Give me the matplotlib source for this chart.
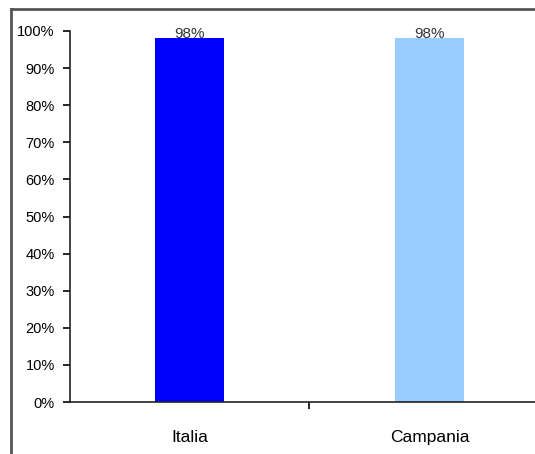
import matplotlib
matplotlib.use('Agg')
import matplotlib.pyplot as plt
from matplotlib.lines import Line2D
from matplotlib.ticker import FixedLocator, PercentFormatter

# Share of respondents, by area
areas = ['Italia', 'Campania']
shares = [98, 98]
bar_colors = ['#0000ff', '#99ccff']

plt.rcParams['font.family'] = ['Liberation Sans Narrow', 'Liberation Sans', 'DejaVu Sans']

fig = plt.figure(figsize=(5.35, 4.54), dpi=100)
ax = fig.add_axes([70 / 535, 1 - 402 / 454, 465 / 535, 371 / 454])

x = list(range(len(areas)))
bars = ax.bar(x, shares, width=0.29, color=bar_colors)

for bar, val in zip(bars, shares):
    ax.text(bar.get_x() + bar.get_width() / 2, bar.get_height() - 0.6,
            f'{val}%', ha='center', va='bottom', fontsize=11, color='#333333')

ax.set_xlim(-0.498, 1.44)
ax.set_ylim(0, 100)
ax.set_yticks(range(0, 101, 10))
ax.yaxis.set_major_formatter(PercentFormatter(decimals=0))
ax.set_xticks(x)
ax.set_xticklabels(areas)
ax.xaxis.set_minor_locator(FixedLocator([0.5]))

ax.tick_params(axis='x', which='major', length=0, pad=20, labelsize=12.5)
ax.tick_params(axis='x', which='minor', length=5, width=1.2, direction='out')
ax.tick_params(axis='y', length=5, width=1.2, direction='out', pad=6, labelsize=10.5)

for side in ['top', 'right']:
    ax.spines[side].set_visible(False)
for side in ['left', 'bottom']:
    ax.spines[side].set_linewidth(1.2)
    ax.spines[side].set_color('#222222')

# outer chart frame
fig.add_artist(Line2D([11 / 535, 11 / 535], [0, 1 - 9 / 454],
                      transform=fig.transFigure, color='#555555', lw=2))
fig.add_artist(Line2D([11 / 535, 1.01], [1 - 9 / 454, 1 - 9 / 454],
                      transform=fig.transFigure, color='#555555', lw=2))

fig.savefig('out.png', dpi=100)
